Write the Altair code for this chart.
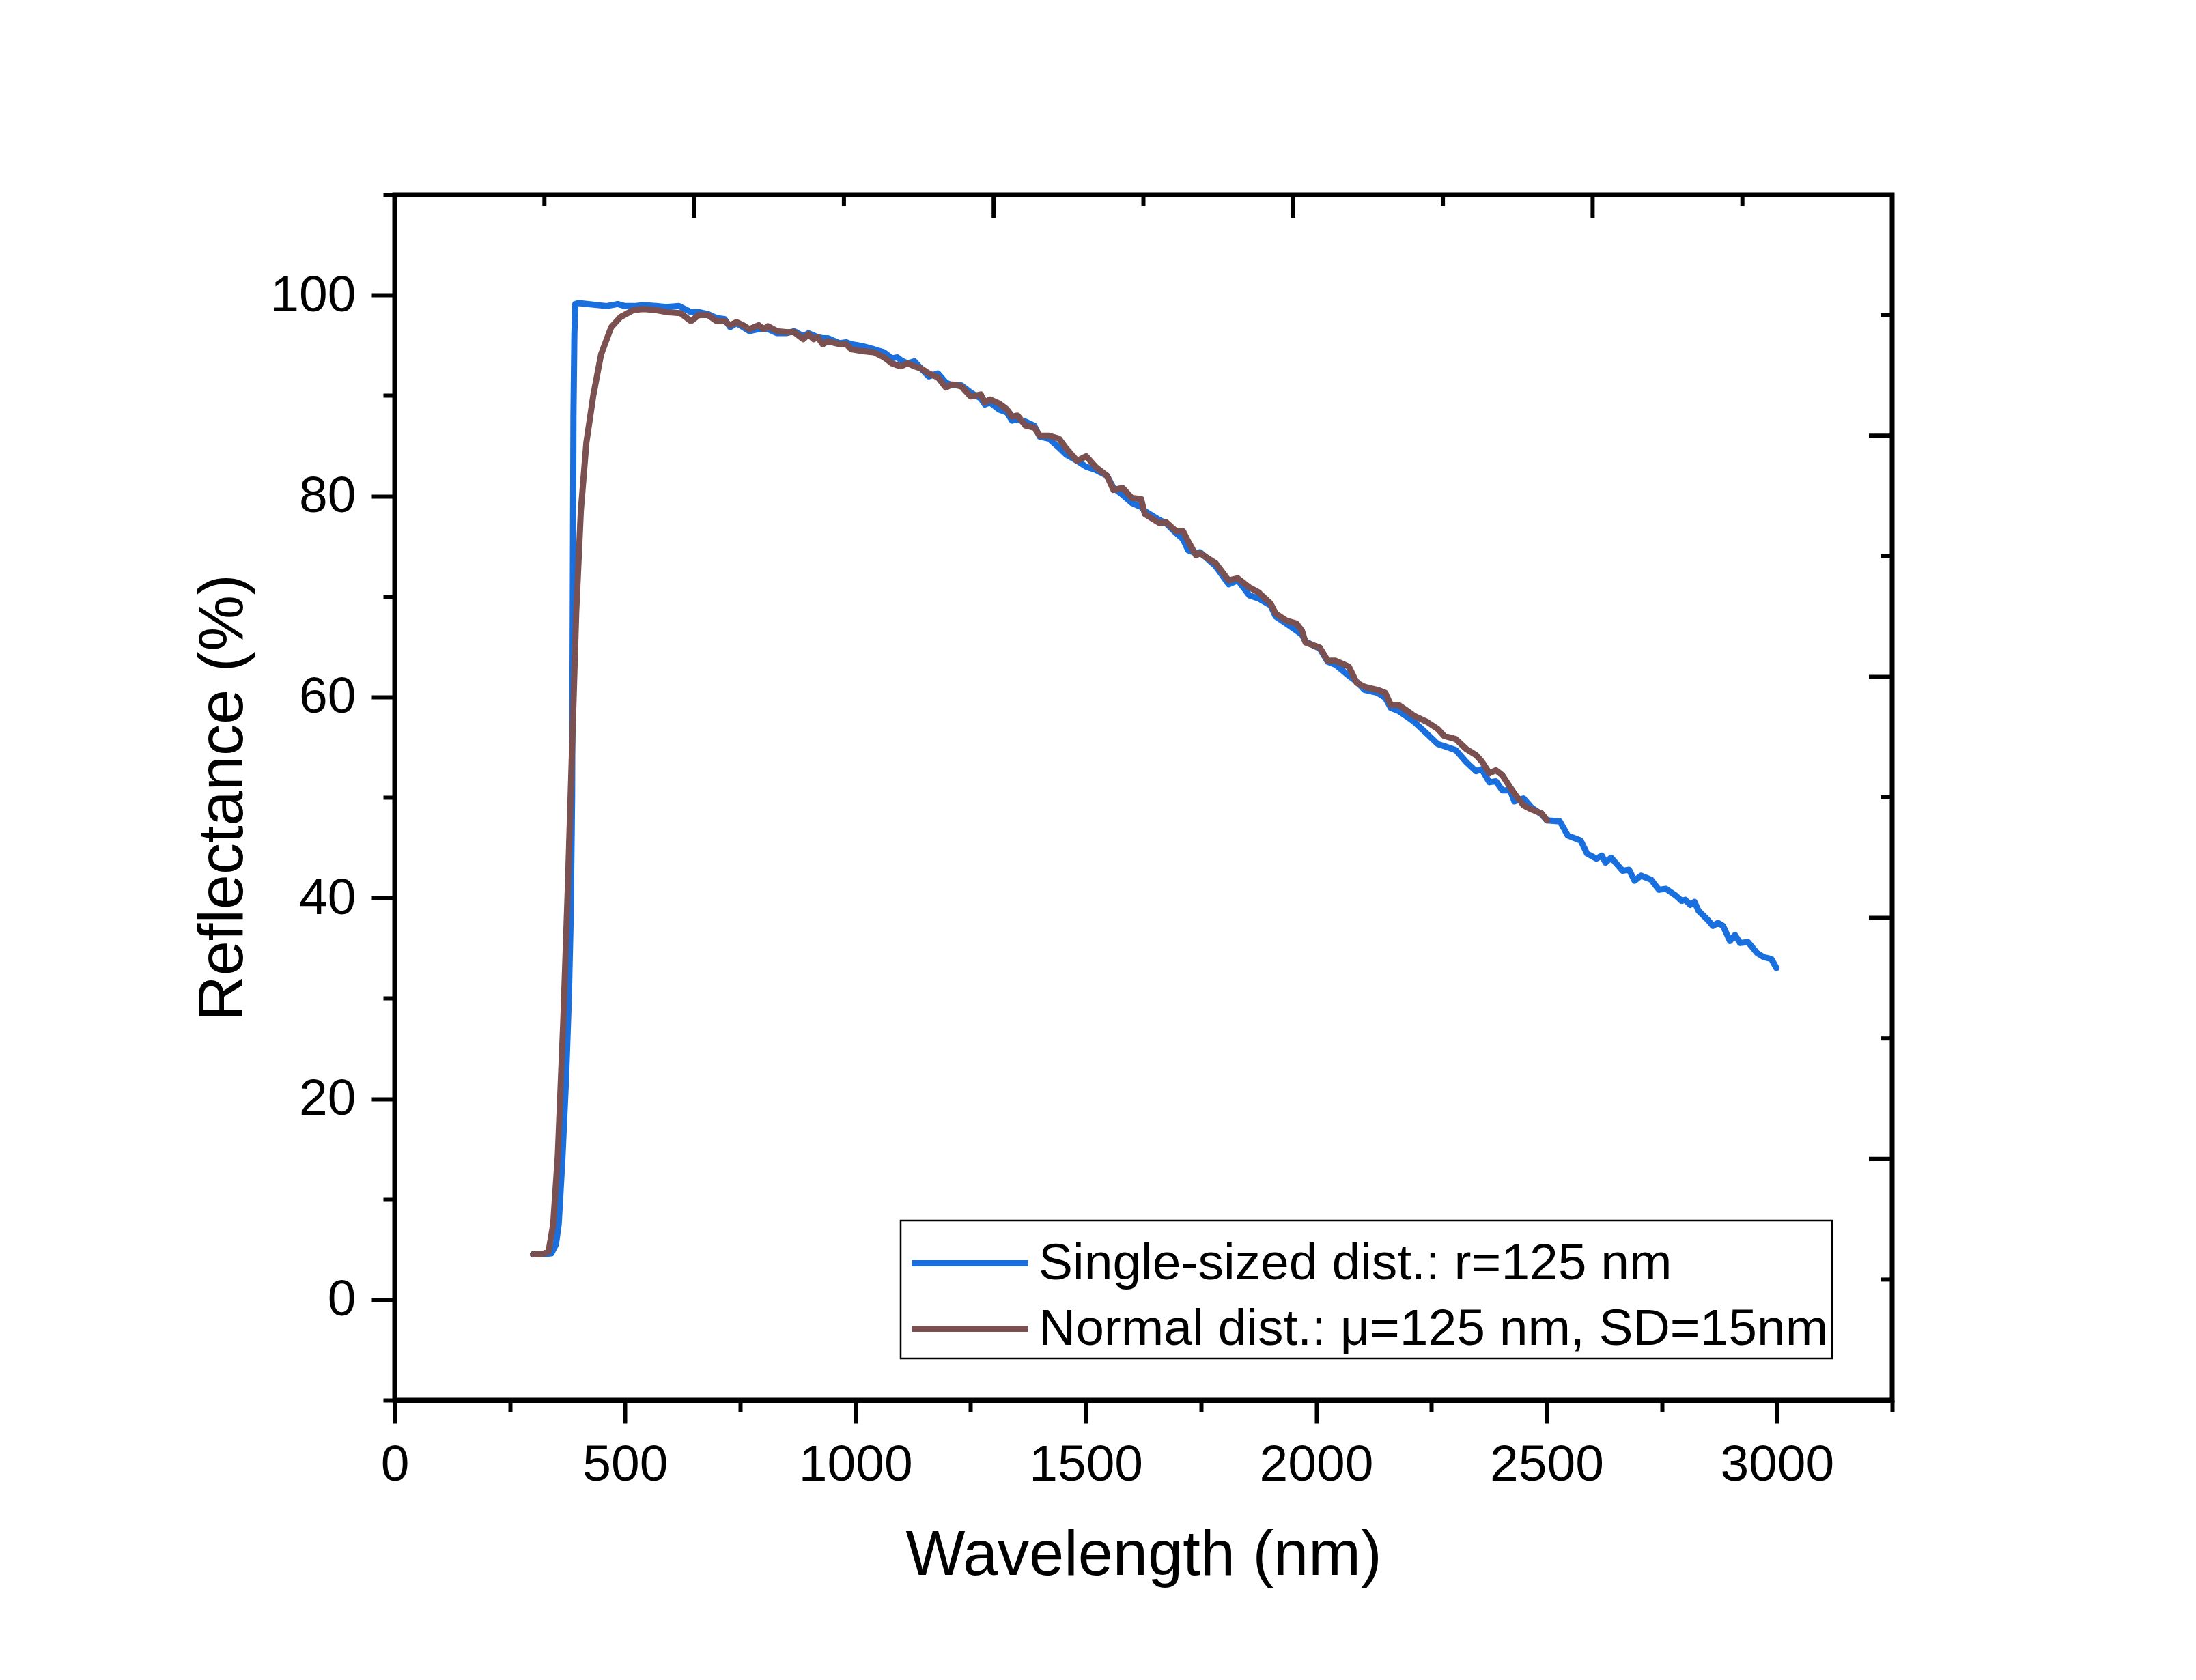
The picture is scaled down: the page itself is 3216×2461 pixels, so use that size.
import altair as alt
import pandas as pd

# ---------------- data ----------------
SERIES = ["Single-sized dist.: r=125 nm", "Normal dist.: μ=125 nm, SD=15nm"]
COLORS = ["#1A6FDF", "#7B5050"]

BLUE_WL = [300, 320, 340, 350, 356, 364, 372, 378, 382, 385, 386, 387, 388, 390, 392,
           400, 420, 440, 460, 484, 500, 520, 540, 567, 590, 617, 643, 660, 680, 699,
           716, 728, 742, 756, 770, 790, 810, 830, 850, 867, 887, 898, 918, 929, 940,
           966, 980, 991, 1017, 1040, 1062, 1079, 1091, 1099, 1113, 1128, 1142, 1159,
           1179, 1196, 1210, 1230, 1250, 1272, 1281, 1292, 1312, 1329, 1340, 1352, 1369,
           1388, 1400, 1420, 1442, 1458, 1481, 1501, 1521, 1546, 1560, 1580, 1600, 1620,
           1628, 1660, 1674, 1696, 1711, 1722, 1739, 1748, 1782, 1810, 1830, 1855, 1875,
           1901, 1912, 1935, 1957, 1969, 1977, 2008, 2025, 2042, 2071, 2088, 2105, 2133,
           2150, 2162, 2179, 2198, 2213, 2241, 2264, 2278, 2303, 2326, 2347, 2359, 2376,
           2390, 2404, 2421, 2430, 2450, 2467, 2489, 2501, 2529, 2546, 2574, 2588, 2608,
           2620, 2628, 2640, 2665, 2679, 2691, 2705, 2727, 2744, 2759, 2781, 2793, 2801,
           2812, 2821, 2830, 2852, 2861, 2872, 2883, 2898, 2909, 2920, 2937, 2957, 2971,
           2988, 2999]
BLUE_R = [4.5, 4.5, 4.6, 5.5, 7.5, 14.0, 22.0, 30.0, 38.0, 50.0, 62.0, 75.0, 88.0, 96.0, 99.1,
          99.2, 99.1, 99.0, 98.9, 99.1, 98.9, 98.9, 99.0, 98.9, 98.8, 98.9, 98.3, 98.3, 98.1, 97.7,
          97.6, 96.8, 97.2, 96.8, 96.4, 96.6, 96.6, 96.2, 96.2, 96.4, 95.9, 96.2, 95.8, 95.7, 95.7,
          95.2, 95.3, 95.1, 94.9, 94.6, 94.3, 93.7, 93.8, 93.5, 93.2, 93.4, 92.7, 91.9,
          92.2, 91.3, 91.0, 91.0, 90.3, 89.7, 89.1, 89.3, 88.6, 88.3, 87.5, 87.6, 87.4,
          87.0, 85.9, 85.7, 84.8, 84.1, 83.5, 82.9, 82.6, 82.0, 80.8, 80.1, 79.3, 78.9,
          78.5, 77.6, 77.3, 76.3, 75.7, 74.6, 74.3, 74.4, 73.0, 71.2, 71.6, 70.1, 69.8,
          69.1, 68.0, 67.3, 66.6, 66.2, 65.5, 64.8, 63.5, 63.2, 62.1, 61.5, 60.7, 60.4,
          59.9, 58.9, 58.6, 58.0, 57.5, 56.3, 55.3, 55.1, 54.7, 53.5, 52.6, 52.8, 51.5,
          51.6, 50.7, 50.7, 49.6, 49.9, 49.0, 48.3, 47.7, 47.6, 46.2, 45.7, 44.4, 43.9,
          44.2, 43.5, 44.0, 42.7, 42.8, 41.7, 42.2, 41.8, 40.8, 40.9, 40.2, 39.7, 39.8,
          39.3, 39.6, 38.7, 37.7, 37.2, 37.5, 37.2, 35.7, 36.3, 35.5, 35.6, 34.5, 34.1,
          33.9, 33.0]

BROWN_WL = [300, 320, 334, 344, 354, 366, 376, 385, 394, 404, 416, 431, 448, 470, 490,
            518, 540, 567, 590, 620, 643, 660, 680, 699, 716, 728, 742, 756, 770, 790,
            801, 810, 830, 853, 867, 887, 898, 909, 918, 929, 940, 966, 980, 991, 1017,
            1040, 1062, 1079, 1091, 1099, 1113, 1128, 1142, 1159, 1179, 1196, 1210, 1230,
            1250, 1272, 1281, 1292, 1312, 1329, 1340, 1352, 1369, 1388, 1400, 1420, 1442,
            1458, 1481, 1501, 1521, 1546, 1560, 1580, 1600, 1620, 1628, 1660, 1674, 1696,
            1711, 1722, 1739, 1748, 1782, 1810, 1830, 1855, 1875, 1901, 1912, 1935, 1957,
            1969, 1977, 2008, 2025, 2042, 2071, 2088, 2105, 2133, 2150, 2162, 2179, 2198,
            2213, 2241, 2264, 2278, 2303, 2326, 2347, 2359, 2376, 2390, 2404, 2421, 2430,
            2450, 2467, 2489, 2501]
BROWN_R = [4.5, 4.5, 4.8, 7.5, 14.3, 27.8, 41.3, 54.9, 68.4, 78.5, 85.3, 90.0, 94.1, 96.8, 97.8,
           98.5, 98.6, 98.5, 98.3, 98.2, 97.4, 98.0, 98.0, 97.4, 97.4, 97.0, 97.3, 97.0, 96.6, 97.0,
           96.6, 96.9, 96.4, 96.3, 96.3, 95.6, 96.1, 95.6, 95.8, 95.1, 95.4, 95.1, 95.1, 94.6, 94.4,
           94.3, 93.8, 93.2, 93.0, 92.9, 93.2, 92.9, 92.7, 92.2, 91.8, 90.8, 91.1, 90.9,
           89.9, 90.1, 89.3, 89.6, 89.2, 88.6, 87.9, 88.0, 87.0, 86.8, 86.0, 86.0, 85.7,
           84.7, 83.5, 83.95, 82.9, 82.0, 80.6, 80.8, 79.8, 79.7, 78.2, 77.3, 77.4, 76.5,
           76.5, 75.5, 74.1, 74.3, 73.3, 71.6, 71.8, 70.9, 70.4, 69.3, 68.3, 67.6, 67.3,
           66.6, 65.4, 64.9, 63.6, 63.6, 63.0, 61.4, 61.0, 60.7, 60.4, 59.2, 59.2, 58.6,
           58.1, 57.5, 56.8, 56.1, 55.8, 54.8, 54.2, 53.6, 52.4, 52.7, 52.2, 51.0, 50.4,
           49.2, 48.8, 48.4, 47.7]

X_TICKS = list(range(0, 3251, 250))
Y_TICKS = list(range(-10, 111, 10))
TOP_MAJOR = [0.2, 0.4, 0.6, 0.8]
TOP_MINOR = [0.1, 0.3, 0.5, 0.7, 0.9]
RIGHT_MAJOR = [0.2, 0.4, 0.6, 0.8]
RIGHT_MINOR = [0.1, 0.3, 0.5, 0.7, 0.9]

# ---------------- layout / style ----------------
W, H = 2193, 1766
FONT = "Liberation Sans"
LONG, SHORT = 34, 17

blue_df = pd.DataFrame({"wl": BLUE_WL, "r": BLUE_R, "series": SERIES[0]})
brown_df = pd.DataFrame({"wl": BROWN_WL, "r": BROWN_R, "series": SERIES[1]})

x_axis = alt.Axis(
    values=X_TICKS,
    labelExpr="datum.value % 500 === 0 ? datum.label : ''",
    tickSize={"condition": {"test": "datum.value % 500 === 0", "value": LONG}, "value": SHORT},
    labelPadding=24,
    labelFlush=False,
    titlePadding=50,
    format="d",
)
y_axis = alt.Axis(
    values=Y_TICKS,
    labelExpr="datum.value % 20 === 0 ? datum.label : ''",
    tickSize={"condition": {"test": "datum.value % 20 === 0", "value": LONG}, "value": SHORT},
    labelPadding=23,
    labelFlush=False,
    titlePadding=22,
    format="d",
)

legend = alt.Legend(
    title=None,
    orient="none",
    legendX=741,
    legendY=1503,
    symbolType="M-1.604,0H1.604",
    symbolSize=11236,
    symbolStrokeWidth=9,
    symbolOffset=39,
    labelOffset=43,
    labelFont=FONT,
    labelFontSize=75,
    labelColor="black",
    labelLimit=3000,
    padding=5,
    rowPadding=0,
    fillColor="white",
    strokeColor="black",
)

color = alt.Color("series:N", scale=alt.Scale(domain=SERIES, range=COLORS), legend=legend)
x_enc = alt.X("wl:Q", scale=alt.Scale(domain=[0, 3250], nice=False, zero=False),
              axis=x_axis, title="Wavelength (nm)")
y_enc = alt.Y("r:Q", scale=alt.Scale(domain=[-10, 110], nice=False, zero=False),
              axis=y_axis, title="Reflectance (%)")

line_kw = dict(strokeWidth=9, strokeCap="round", strokeJoin="round")
blue = alt.Chart(blue_df).mark_line(**line_kw).encode(x=x_enc, y=y_enc, color=color)
brown = alt.Chart(brown_df).mark_line(**line_kw).encode(x=x_enc, y=y_enc, color=color)
lines = alt.layer(blue, brown)

def top_ticks(vals, length):
    return alt.Chart(pd.DataFrame({"f": vals})).mark_rule(color="black", strokeWidth=6).encode(
        x=alt.X("f:Q", scale=alt.Scale(domain=[0, 1], nice=False), axis=None),
        y=alt.value(0), y2=alt.value(length))

def right_ticks(vals, length):
    return alt.Chart(pd.DataFrame({"f": vals})).mark_rule(color="black", strokeWidth=6).encode(
        y=alt.Y("f:Q", scale=alt.Scale(domain=[0, 1], nice=False), axis=None),
        x=alt.value(W), x2=alt.value(W - length))

chart = alt.layer(
    lines,
    top_ticks(TOP_MAJOR, LONG), top_ticks(TOP_MINOR, SHORT),
    right_ticks(RIGHT_MAJOR, LONG), right_ticks(RIGHT_MINOR, SHORT),
).resolve_scale(x="independent", y="independent").properties(
    width=W, height=H,
    padding={"left": 272, "top": 274, "right": 20, "bottom": 20},
    background="white",
).configure_view(
    stroke="black", strokeWidth=7
).configure_axis(
    grid=False,
    domainColor="black", domainWidth=7,
    tickColor="black", tickWidth=6,
    labelFont=FONT, labelFontSize=75, labelColor="black",
    titleFont=FONT, titleFontSize=92, titleFontWeight="normal", titleColor="black",
).configure_legend(
    strokeWidth=2.5, cornerRadius=0,
)

chart.save("out.html", embed_options={"renderer": "svg", "actions": False})
